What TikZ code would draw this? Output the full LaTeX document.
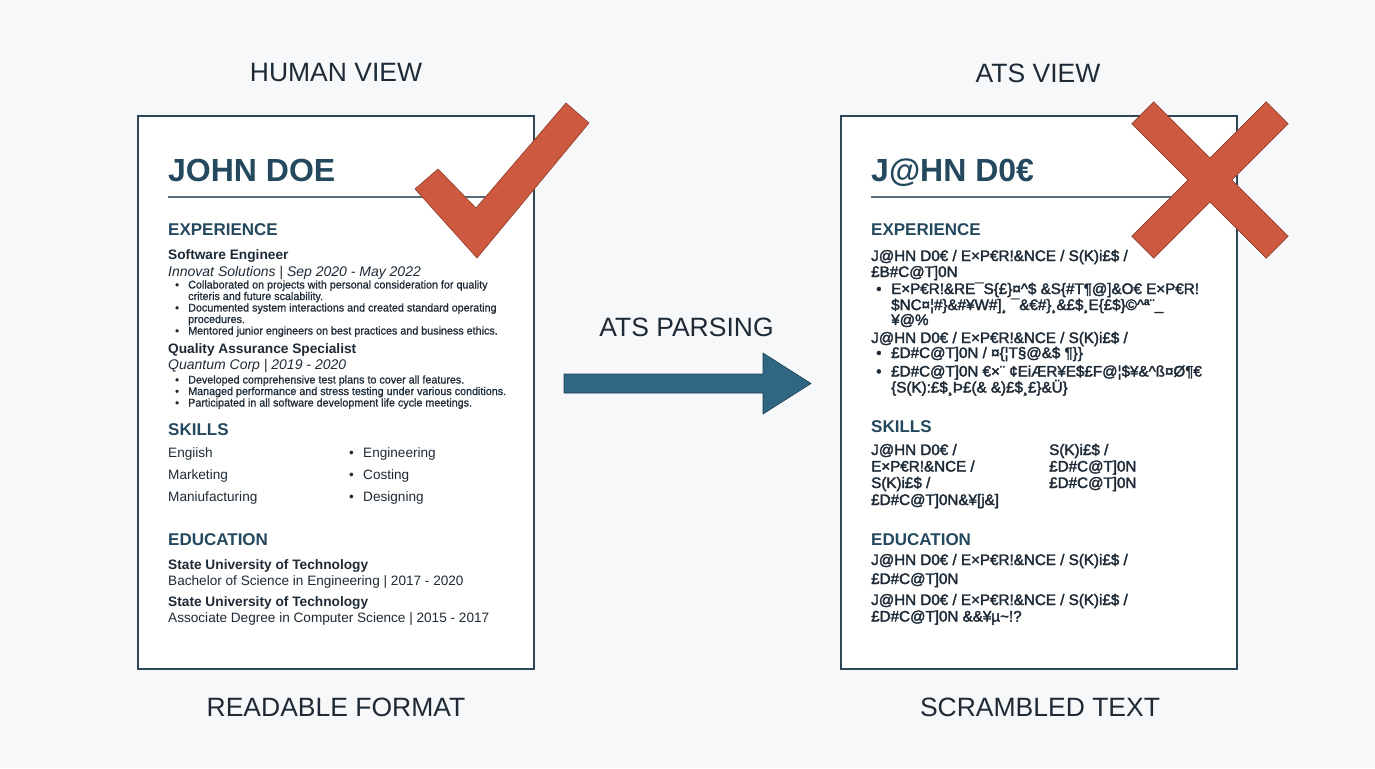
\documentclass[tikz,border=0pt]{standalone}
\usepackage{fontspec}
\setmainfont{Liberation Sans}
\newfontfamily\medfont[FakeBold=2.2]{Liberation Sans}
\newfontfamily\densefont[FakeBold=0.8, FakeStretch=0.96]{Liberation Sans}
\usetikzlibrary{positioning}

\definecolor{ink}{HTML}{1E2B36}
\definecolor{navy}{HTML}{24495E}
\definecolor{frame}{HTML}{2E4757}
\definecolor{paper}{HTML}{F6F8F9}
\definecolor{markred}{HTML}{CD5A40}
\definecolor{markline}{HTML}{8E3B29}
\definecolor{arrowfill}{HTML}{2F6782}
\definecolor{arrowline}{HTML}{1D3E4E}

\tikzset{
  viewlabel/.style={inner sep=0pt, text=ink, font=\fontsize{26.5}{30}\selectfont},
  fullname/.style={anchor=base west, inner sep=0pt, text=navy, font=\fontsize{32}{36}\selectfont\bfseries},
  secthead/.style={anchor=base west, inner sep=0pt, text=navy, font=\fontsize{17}{20}\selectfont\bfseries},
  role/.style={anchor=base west, inner sep=0pt, text=ink, font=\fontsize{13.7}{16}\selectfont\bfseries},
  dates/.style={anchor=base west, inner sep=0pt, text=ink, font=\fontsize{14}{16}\selectfont\itshape},
  detail/.style={anchor=base west, inner sep=0pt, text=ink, font=\fontsize{11.2}{12}\densefont},
  bodytext/.style={anchor=base west, inner sep=0pt, text=ink, font=\fontsize{13.6}{16}\selectfont},
  scram/.style={anchor=base west, inner sep=0pt, text=ink, font=\fontsize{15.2}{17}\medfont},
  resume/.style={draw=frame, line width=1.5pt, fill=white},
  headrule/.style={draw=frame!80, line width=1.3pt},
  badmark/.style={fill=markred, draw=markline, line width=0.6pt}
}

\begin{document}
\begin{tikzpicture}[x=1pt, y=-1pt]
\useasboundingbox (0,0) rectangle (1375,768);
\fill[paper] (0,0) rectangle (1375,768);

% Captions
\node[viewlabel] (hv) at (336,73) {HUMAN VIEW};
\node[viewlabel] (av) at (1038,73) {ATS VIEW};
\node[viewlabel] (rf) at (336,707) {READABLE FORMAT};
\node[viewlabel] (st) at (1040,707) {SCRAMBLED TEXT};
\node[viewlabel] (ap) at (686.5,327.5) {ATS PARSING};

% Parsing arrow
\draw[fill=arrowfill, draw=arrowline, line width=0.6pt]
  (564,374) -- (763,374) -- (763,353) -- (811,383.5) -- (763,414) -- (763,393) -- (564,393) -- cycle;

% Human view resume
\draw[resume] (138,116) rectangle (534,669);
\node[fullname] (jd) at (168,181) {JOHN DOE};
\draw[headrule] (168,197) -- (486,197);

\node[secthead] (exp) at (168,235) {EXPERIENCE};
\node[role] (job1) at (168,259) {Software Engineer};
\node[dates] (when1) at (168,276) {Innovat Solutions | Sep 2020 - May 2022};
\node[detail] (d1) at (188,288.5) {Collaborated on projects with personal consideration for quality};
\node[detail] (d2) at (188,300) {criteris and future scalability.};
\node[detail] (d3) at (188,311.5) {Documented system interactions and created standard operating};
\node[detail] (d4) at (188,323) {procedures.};
\node[detail] (d5) at (188,334.5) {Mentored junior engineers on best practices and business ethics.};

\node[role] (job2) at (168,353) {Quality Assurance Specialist};
\node[dates] (when2) at (168,369) {Quantum Corp | 2019 - 2020};
\node[detail] (d6) at (188,383.5) {Developed comprehensive test plans to cover all features.};
\node[detail] (d7) at (188,395) {Managed performance and stress testing under various conditions.};
\node[detail] (d8) at (188,406.5) {Participated in all software development life cycle meetings.};
\foreach \y [count=\i] in {288.5,311.5,334.5,383.5,395,406.5}
  \node[detail] (hb\i) at (175,\y) {•};

\node[secthead] (sk) at (168,435) {SKILLS};
\node[bodytext] (s1) at (168,457) {Engiish};
\node[bodytext] (s2) at (168,479) {Marketing};
\node[bodytext] (s3) at (168,501) {Maniufacturing};
\node[bodytext] (s4) at (363,457) {Engineering};
\node[bodytext] (s5) at (363,479) {Costing};
\node[bodytext] (s6) at (363,501) {Designing};
\foreach \y [count=\i] in {457,479,501}
  \node[bodytext] (sb\i) at (349,\y) {•};

\node[secthead] (ed) at (168,545) {EDUCATION};
\node[role] (u1) at (168,569) {State University of Technology};
\node[bodytext] (g1) at (168,585) {Bachelor of Science in Engineering | 2017 - 2020};
\node[role] (u2) at (168,606) {State University of Technology};
\node[bodytext] (g2) at (168,622) {Associate Degree in Computer Science | 2015 - 2017};

% Check mark
\draw[badmark] (415,189) -- (438,169) -- (476,208) -- (566,103) -- (589,123) -- (477,258) -- cycle;

% ATS view resume
\draw[resume] (841,116) rectangle (1237,669);
\node[fullname] (sjd) at (871,181) {J@HN D0€};
\draw[headrule] (871,197) -- (1188,197);

\node[secthead] (sexp) at (871,235) {EXPERIENCE};
\node[scram] (x1) at (871,261) {J@HN D0€ / E×P€R!\&NCE / S(K)i£\$ /};
\node[scram] (x2) at (871,277) {£B\#C@T]0N};
\node[scram] (x3) at (891,294) {E×P€R!\&RE¯S\{£\}¤\^{}\$ \&S\{\#T¶@]\&O€ E×P€R!};
\node[scram] (x4) at (891,310) {\$NC¤¦\#\}\&\#¥W\#]¸ ¯\&€\#\}¸\&£\$¸E\{£\$\}©\^{}ª¨\_};
\node[scram] (x5) at (891,325) {¥@\%};
\node[scram] (x6) at (871,343) {J@HN D0€ / E×P€R!\&NCE / S(K)i£\$ /};
\node[scram] (x7) at (891,358) {£D\#C@T]0N / ¤\{¦T§@\&\$ ¶\}\}};
\node[scram] (x8) at (891,376.5) {£D\#C@T]0N €×¨ ¢EiÆR¥E\$£F@¦\$¥\&\^{}ß¤Ø¶€};
\node[scram] (x9) at (891,392.5) {\{S(K):£\$¸Þ£(\& \&)£\$¸£\}\&Ü\}};
\foreach \y [count=\i] in {294,358,376.5}
  \node[scram] (ab\i) at (876,\y) {•};

\node[secthead] (ssk) at (871,432) {SKILLS};
\node[scram] (k1) at (871,455) {J@HN D0€ /};
\node[scram] (k2) at (871,471.5) {E×P€R!\&NCE /};
\node[scram] (k3) at (871,488) {S(K)i£\$ /};
\node[scram] (k4) at (871,505) {£D\#C@T]0N\&¥[j\&]};
\node[scram] (k5) at (1049,455) {S(K)i£\$ /};
\node[scram] (k6) at (1049,471.5) {£D\#C@T]0N};
\node[scram] (k7) at (1049,488) {£D\#C@T]0N};

\node[secthead] (sed) at (871,545) {EDUCATION};
\node[scram] (e1) at (871,565) {J@HN D0€ / E×P€R!\&NCE / S(K)i£\$ /};
\node[scram] (e2) at (871,584) {£D\#C@T]0N};
\node[scram] (e3) at (871,605) {J@HN D0€ / E×P€R!\&NCE / S(K)i£\$ /};
\node[scram] (e4) at (871,621.5) {£D\#C@T]0N \&\&¥µ\textasciitilde!?};

% Cross mark
\begin{scope}[shift={(1210,180)}, rotate=45]
  \draw[badmark] (95,15.5) -- (15.5,15.5) -- (15.5,95) -- (-15.5,95) -- (-15.5,15.5) -- (-95,15.5)
    -- (-95,-15.5) -- (-15.5,-15.5) -- (-15.5,-95) -- (15.5,-95) -- (15.5,-15.5) -- (95,-15.5) -- cycle;
\end{scope}
\end{tikzpicture}
\end{document}
